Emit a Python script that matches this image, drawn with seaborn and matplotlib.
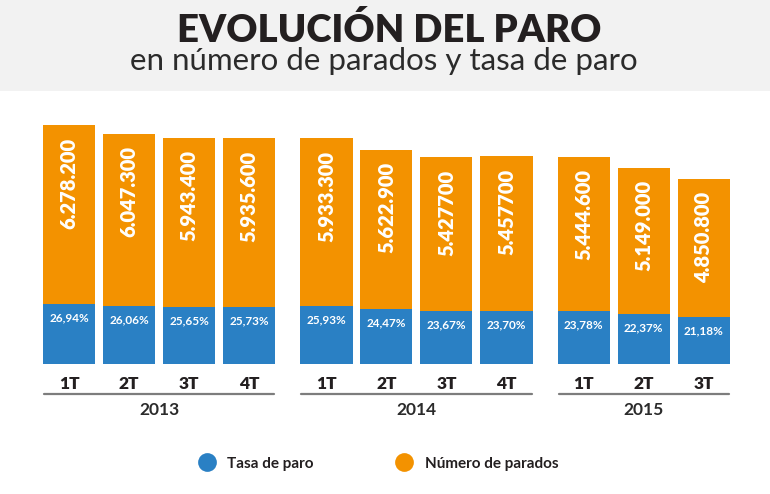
import numpy as np
import pandas as pd
import matplotlib
matplotlib.use("Agg")
import matplotlib.pyplot as plt
import matplotlib.transforms as mtransforms
from matplotlib.patches import Rectangle
from matplotlib.lines import Line2D
import seaborn as sns

# ---------------- data ----------------
years = ["2013", "2014", "2015"]
quarters = ["1T", "2T", "3T", "4T", "1T", "2T", "3T", "4T", "1T", "2T", "3T"]
year_idx = [0, 0, 0, 0, 1, 1, 1, 1, 2, 2, 2]
parados = [6278200, 6047300, 5943400, 5935600, 5933300, 5622900,
           5427700, 5457700, 5444600, 5149000, 4850800]
parados_labels = ["6.278.200", "6.047.300", "5.943.400", "5.935.600",
                  "5.933.300", "5.622.900", "5.427700", "5.457700",
                  "5.444.600", "5.149.000", "4.850.800"]
tasa = [26.94, 26.06, 25.65, 25.73, 25.93, 24.47, 23.67, 23.70,
        23.78, 22.37, 21.18]

title = "EVOLUCIÓN DEL PARO"
subtitle = "en número de parados y tasa de paro"
legend_labels = ["Tasa de paro", "Número de parados"]

# ---------------- style ----------------
BLUE = "#2a80c4"
ORANGE = "#f39200"
DARK = "#231f20"
BAND = "#f2f2f2"
GAP = 0.29
W_PX, H_PX = 770, 494

sns.set_theme(style="white")
plt.rcParams["font.family"] = ["Lato", "DejaVu Sans"]

pos = [i + GAP * g for i, g in enumerate(year_idx)]
df = pd.DataFrame({
    "pos": pos,
    "millones": np.array(parados) / 1e6,
    "tasa": tasa,
    "quarter": quarters,
    "year": [years[g] for g in year_idx],
})

fig = plt.figure(figsize=(W_PX / 100, H_PX / 100), dpi=100)
fig.patch.set_facecolor("white")

# title band
fig.patches.append(Rectangle((0, 1 - 90.7 / H_PX), 1, 90.7 / H_PX,
                             transform=fig.transFigure, facecolor=BAND,
                             edgecolor="none", zorder=0))
fig.text(0.505, 1 - 42 / H_PX, title, ha="center", va="baseline",
         fontsize=27.5, fontweight="heavy", color=DARK)
fig.text(0.499, 1 - 70 / H_PX, subtitle, ha="center", va="baseline",
         fontsize=22.5, fontweight="normal", color="#2b2b2b")

# axes geometry: baseline at y=363.5px, top at y=100px
base_px, top_px = 363.5, 100.0
ax = fig.add_axes([0, (H_PX - base_px) / H_PX, 1, (base_px - top_px) / H_PX])
px_per_m = 38.0
px_per_pct = 2.21

sns.barplot(data=df, x="pos", y="millones", native_scale=True, color=ORANGE,
            saturation=1, width=0.87, errorbar=None, ax=ax, linewidth=0)
ax.set_ylim(0, (base_px - top_px) / px_per_m)
x0 = -69 / 60
ax.set_xlim(x0, x0 + W_PX / 60)

ax2 = ax.twinx()
sns.barplot(data=df, x="pos", y="tasa", native_scale=True, color=BLUE,
            saturation=1, width=0.87, errorbar=None, ax=ax2, linewidth=0)
ax2.set_ylim(0, (base_px - top_px) / px_per_pct)
ax2.set_xlim(x0, x0 + W_PX / 60)

for a in (ax, ax2):
    for s in a.spines.values():
        s.set_visible(False)
    a.set_ylabel("")
    a.set_xlabel("")
    a.set_yticks([])
    a.patch.set_alpha(0)

# labels on bars
for p, m, lab in zip(df["pos"], df["millones"], parados_labels):
    ax.annotate(lab, (p, m), xytext=(0, -9), textcoords="offset points",
                rotation=90, ha="center", va="top", color="white",
                fontsize=14.5, fontweight="heavy")
for p, t in zip(df["pos"], df["tasa"]):
    ax2.annotate(f"{t:.2f}".replace(".", ",") + "%", (p, t), xytext=(0, -10),
                 textcoords="offset points", ha="center", va="center",
                 color="white", fontsize=8.5, fontweight="bold")

# quarter tick labels
ax.set_xticks(pos)
ax.set_xticklabels(quarters, fontsize=12.5, fontweight="heavy", color=DARK)
ax.tick_params(axis="x", length=0, pad=9)
ax2.tick_params(axis="x", length=0, labelbottom=False)

# year group lines and labels
trans = mtransforms.blended_transform_factory(ax.transData, fig.transFigure)
line_y = (H_PX - 394) / H_PX
year_y = (H_PX - 410) / H_PX
for g, yr in enumerate(years):
    ps = [p for p, gi in zip(pos, year_idx) if gi == g]
    left, right = min(ps) - 0.42, max(ps) + 0.42
    fig.add_artist(Line2D([left, right], [line_y, line_y], transform=trans,
                          color="#7d7d7d", linewidth=1.6))
    fig.text((left + right) / 2, year_y, yr, transform=trans, ha="center",
             va="center", fontsize=12.5, fontweight="bold", color="#2b2b2b")

# legend
handles = [Line2D([], [], marker="o", linestyle="none", markersize=13.5,
                  markerfacecolor=c, markeredgecolor="none")
           for c in (BLUE, ORANGE)]
fig.legend(handles, legend_labels, loc="center left",
           bbox_to_anchor=(190 / W_PX, (H_PX - 463.5) / H_PX), ncol=2,
           frameon=False, borderpad=0, handlelength=1.2, handletextpad=0.75,
           columnspacing=5.3, prop={"size": 11, "weight": "bold"},
           labelcolor=DARK)

fig.savefig("out.png", dpi=100, facecolor="white")
